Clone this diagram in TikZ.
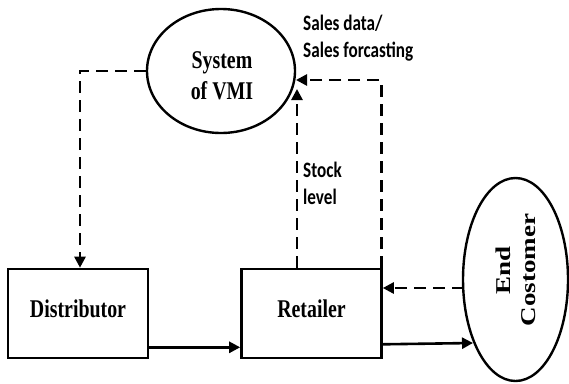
\documentclass[tikz,border=0pt]{standalone}
\usepackage{fontspec}
\setmainfont{Liberation Serif}
\newfontfamily\labelfont{Carlito}
\usetikzlibrary{shapes.geometric,arrows.meta}
% condensed setting for the labels
\newcommand{\narrow}[1]{\scalebox{0.78}[1]{#1}}
\newcommand{\narrowup}[1]{\scalebox{1}[0.78]{#1}}
\begin{document}
\begin{tikzpicture}[x=1pt,y=-1pt,
  boxnode/.style={draw, line width=2.6pt, minimum width=140pt, minimum height=89pt,
    inner sep=0pt},
  ovalnode/.style={ellipse, draw, line width=2.4pt, inner sep=0pt},
  bigtext/.style={font=\bfseries\fontsize{25.5}{31}\selectfont, inner sep=0pt},
  smalltext/.style={font=\labelfont\bfseries\fontsize{22}{27}\selectfont, inner sep=0pt, anchor=base west},
  flow/.style={line width=2.6pt, -{Triangle[length=11pt,width=11pt]}},
  info/.style={flow, dash pattern=on 12pt off 7pt}]
\useasboundingbox[fill=white] (0,0) rectangle (569,383);

% nodes
\node[ovalnode, minimum width=148pt, minimum height=124pt] (vmi) at (221,71) {};
\node[bigtext, align=center] (vmitext) at (222,78) {\narrow{\begin{tabular}{@{}c@{}}System\\of VMI\end{tabular}}};
\node[boxnode] (dist) at (78,313.5) {};
\node[bigtext] (disttext) at (78,309) {\narrow{Distributor}};
\node[boxnode] (ret) at (311.5,313.5) {};
\node[bigtext] (rettext) at (311.5,309) {\narrow{Retailer}};
\node[ovalnode, minimum width=105pt, minimum height=203pt] (cust) at (515.5,279.5) {};
\node[bigtext, rotate=90, font=\bfseries\fontsize{27}{32}\selectfont] (custtext) at (518,270)
  {\narrowup{\begin{tabular}{@{}c@{}}End\\Costomer\end{tabular}}};

% labels
\node[smalltext] (saleslabel) at (303,30) {\narrow{\begin{tabular}[t]{@{}l@{}}Sales data/\\Sales forcasting\end{tabular}}};
\node[smalltext] (stocklabel) at (303,177) {\narrow{\begin{tabular}[t]{@{}l@{}}Stock\\level\end{tabular}}};

% free ends on the oval borders
\coordinate (stocktip) at (297,89);
\coordinate (salestip) at (296,80);
\coordinate (custin) at (473,343);
\coordinate (custout) at (463.5,288);

% connectors
\draw[info] (vmi.west) -| ([xshift=2pt]dist.north);
\draw[info] ([xshift=-14.5pt]ret.north) -- (stocktip);
\draw[info] ([xshift=-1.5pt]ret.north east) |- (salestip);
\draw[flow] ([yshift=12pt]dist.south east) -- ([yshift=12pt]ret.south west);
\draw[flow] ([yshift=15pt]ret.south east) -- (custin);
\draw[info] (custout) -- (custout -| ret.east);
\end{tikzpicture}
\end{document}
